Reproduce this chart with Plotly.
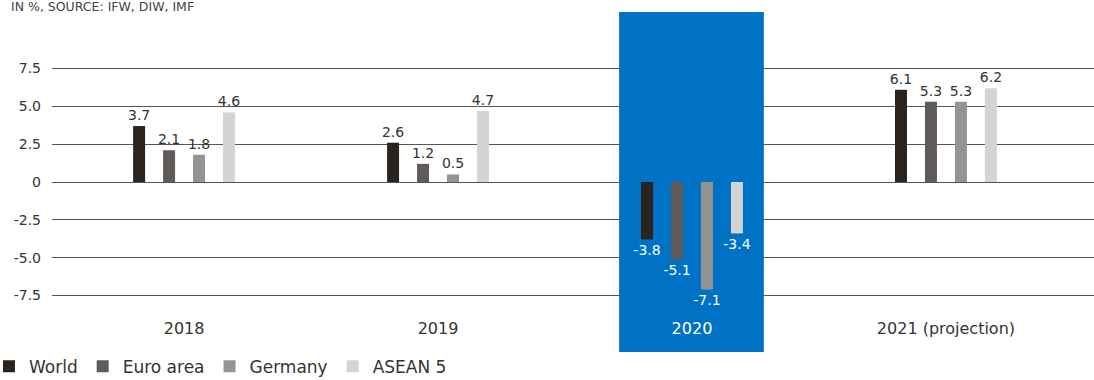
import plotly.graph_objects as go

categories = ["2018", "2019", "2020", "2021 (projection)"]
world = [3.7, 2.6, -3.8, 6.1]
euro_area = [2.1, 1.2, -5.1, 5.3]
germany = [1.8, 0.5, -7.1, 5.3]
asean5 = [4.6, 4.7, -3.4, 6.2]
series_names = ["World", "Euro area", "Germany", "ASEAN 5"]
series_colors = ["#2B231E", "#605B58", "#959493", "#D4D4D3"]
y_tickvals = [-7.5, -5.0, -2.5, 0, 2.5, 5.0, 7.5]
y_ticktext = ["-7.5", "-5.0", "-2.5", "0", "2.5", "5.0", "7.5"]
highlight = "2020"

FONT = "DejaVu Sans"
TEXT = "#333333"
BLUE = "#0072C6"
Y_RANGE = [-11.24, 11.24]

fig = go.Figure()
for name, vals, col in zip(series_names, [world, euro_area, germany, asean5], series_colors):
    fig.add_trace(go.Bar(
        x=categories, y=vals, name=name, marker=dict(color=col, line=dict(width=0)),
        text=[f"{v:.1f}" for v in vals], textposition="outside", constraintext="none",
        textfont=dict(family=FONT, size=14,
                      color=["white" if c == highlight else TEXT for c in categories]),
        cliponaxis=False,
    ))

ticktext = [f"<span style='color:white'>{c}</span>" if c == highlight else c for c in categories]

fig.add_shape(type="rect", xref="x", yref="y", x0=1.713, x1=2.283, y0=Y_RANGE[0], y1=Y_RANGE[1],
              fillcolor=BLUE, line=dict(width=0), layer="between")

fig.update_layout(
    width=1094, height=380,
    margin=dict(l=52, r=0, t=12, b=28, autoexpand=False),
    paper_bgcolor="white", plot_bgcolor="white",
    barmode="group", bargap=0.528, bargroupgap=0.6,
    font=dict(family=FONT, color=TEXT),
    title=dict(text="IN %, SOURCE: IFW, DIW, IMF", x=11/1094, xanchor="left",
               y=1 - 2/380, yanchor="top", xref="container", yref="container",
               font=dict(family=FONT, size=12.5, color="#444444")),
    xaxis=dict(range=[-0.52, 3.583], showgrid=False, zeroline=False, showline=False,
               tickmode="array", tickvals=categories, ticktext=ticktext,
               ticklabelposition="inside", ticks="", ticklabelstandoff=12,
               tickfont=dict(family=FONT, size=16, color=TEXT)),
    yaxis=dict(range=Y_RANGE, tickmode="array", tickvals=y_tickvals, ticktext=y_ticktext,
               showgrid=True, gridcolor="#555555", gridwidth=1, zeroline=False, showline=False,
               ticks="", ticklabelstandoff=10,
               tickfont=dict(family=FONT, size=14, color=TEXT)),
    legend=dict(orientation="h", x=-0.0605, xanchor="left", y=-0.043, yanchor="middle",
                font=dict(family=FONT, size=17, color=TEXT), bgcolor="rgba(0,0,0,0)",
                traceorder="normal"),
    showlegend=True,
)

fig.write_html("out.html")
